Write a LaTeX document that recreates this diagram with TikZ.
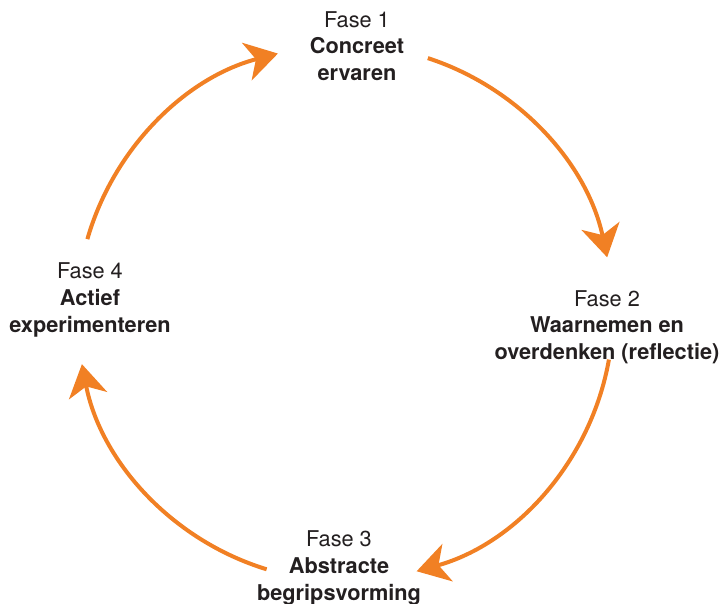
\documentclass[tikz,border=0pt]{standalone}
\usepackage{fontspec}
\setmainfont{TeX Gyre Heros}
\usetikzlibrary{arrows.meta}
\definecolor{cycleorange}{RGB}{241,128,36}
\definecolor{phasetext}{RGB}{35,31,32}

\begin{document}
\begin{tikzpicture}[x=0.75pt, y=-0.75pt,
    phase/.style={align=center, text=phasetext, font=\fontsize{16.3}{20}\selectfont},
    cyclearrow/.style={cycleorange, line width=3pt,
        -{Stealth[length=24pt, width=29pt, inset=7pt]}}]
    \useasboundingbox (0,0) rectangle (722,604);

    % centre of the learning cycle
    \coordinate (c) at (345,313);
    \def\rad{268}

    % the four phases
    \node[phase] (f1) at (357,46)  {Fase 1\\\textbf{Concreet}\\\textbf{ervaren}};
    \node[phase] (f2) at (607,327) {Fase 2\\\textbf{Waarnemen en}\\\textbf{overdenken (reflectie)}};
    \node[phase] (f3) at (339,568) {Fase 3\\\textbf{Abstracte}\\\textbf{begripsvorming}};
    \node[phase] (f4) at (90,300)  {Fase 4\\\textbf{Actief}\\\textbf{experimenteren}};

    % arcs from one phase to the next (angles measured with y upwards)
    \draw[cyclearrow] ([shift={(-164:\rad)}]c) arc[start angle=-164, end angle=-104.5, radius=\rad];
    \draw[cyclearrow] ([shift={(-72:\rad)}]c)  arc[start angle=-72, end angle=-12, radius=\rad];
    \draw[cyclearrow] ([shift={(10:\rad)}]c)   arc[start angle=10, end angle=74.5, radius=\rad];
    \draw[cyclearrow] ([shift={(107:\rad)}]c)  arc[start angle=107, end angle=169, radius=\rad];
\end{tikzpicture}
\end{document}
